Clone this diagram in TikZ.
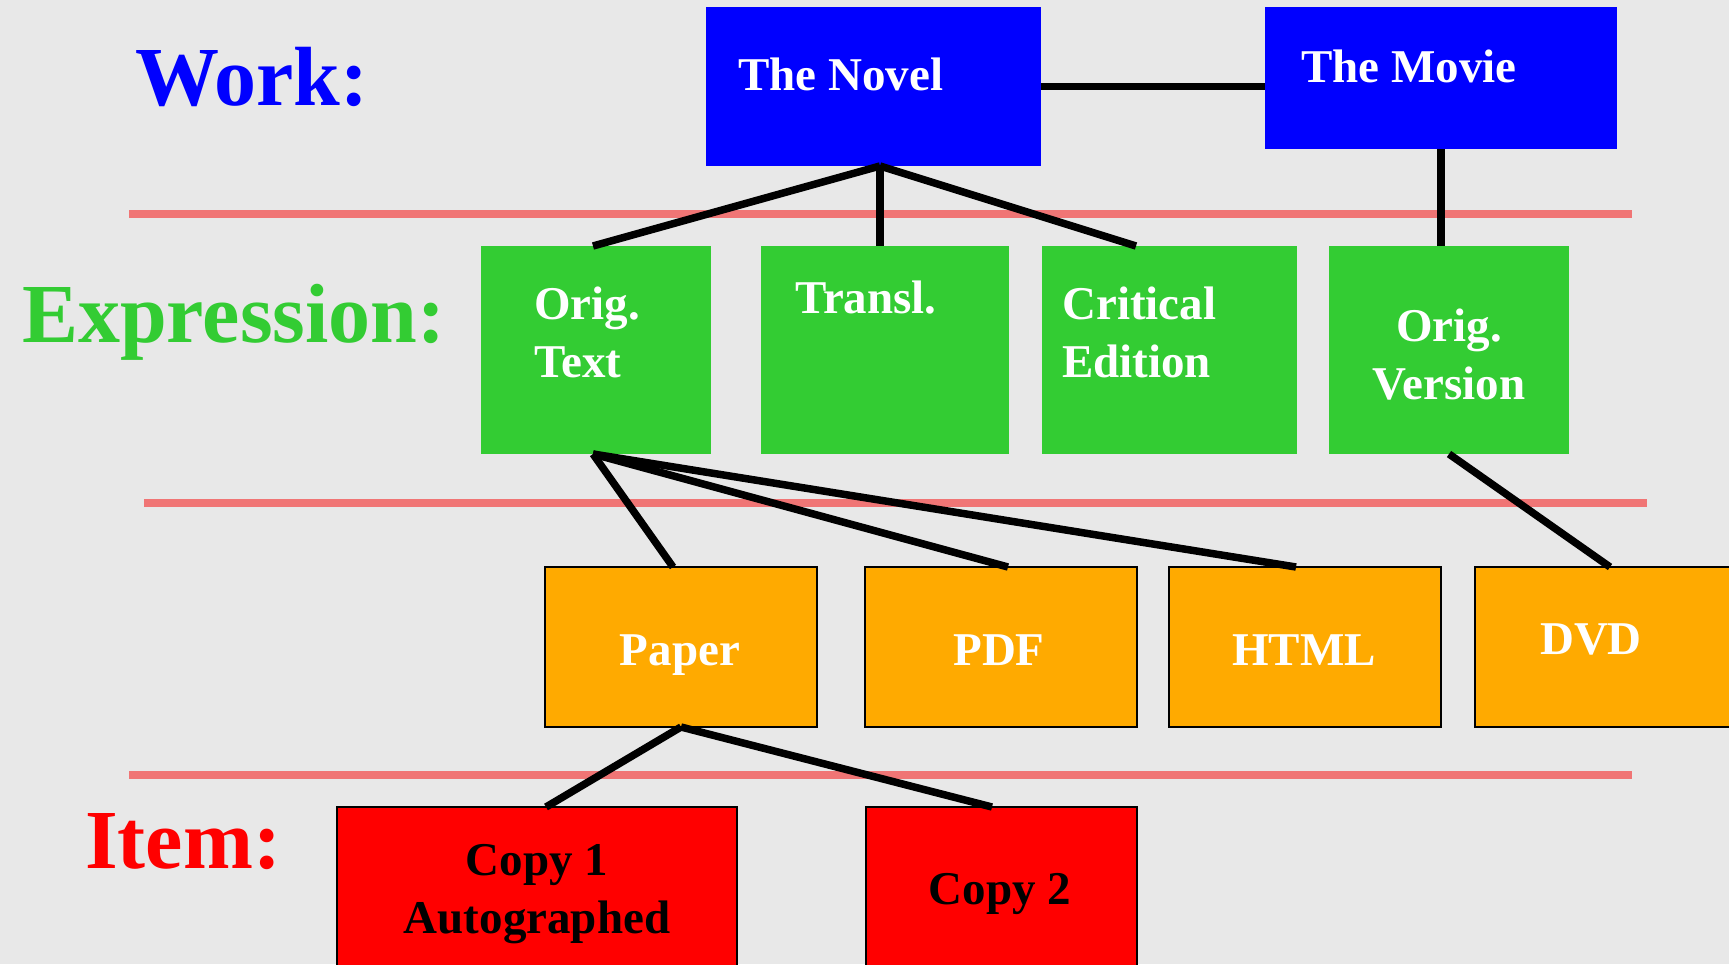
\documentclass[tikz,border=0pt]{standalone}
\usepackage{fontspec}
\setmainfont{Liberation Serif}
\definecolor{bg}{HTML}{E8E8E8}
\definecolor{wblue}{HTML}{0000FF}
\definecolor{egreen}{HTML}{33CC33}
\definecolor{morange}{HTML}{FFAA00}
\definecolor{ired}{HTML}{FF0000}
\definecolor{sepred}{HTML}{F07575}
\begin{document}
\begin{tikzpicture}[x=1pt,y=-1pt,
  boxbase/.style={inner sep=0pt, outer sep=0pt, anchor=north west},
  workbox/.style={boxbase, fill=wblue},
  exprbox/.style={boxbase, fill=egreen},
  manbox/.style={boxbase, fill=morange, draw=black, line width=2.5pt},
  itembox/.style={boxbase, fill=ired, draw=black, line width=2.5pt},
  lbl/.style={text=white, font=\fontsize{47}{58}\selectfont\bfseries, inner sep=0pt},
  dlbl/.style={lbl, text=black},
  head/.style={font=\fontsize{84}{90}\selectfont\bfseries, inner sep=0pt, anchor=base west},
  conn/.style={draw=black, line width=7.5pt},
  sepline/.style={draw=sepred, line width=8pt}]
\clip (0,0) rectangle (1729,964);
\fill[bg] (0,0) rectangle (1729,964);
% separators
\draw[sepline] (129,214) -- (1632,214);
\draw[sepline] (144,503) -- (1647,503);
\draw[sepline] (129,775) -- (1632,775);
% headings
\node[head, text=wblue] (hwork) at (135,105) {Work:};
\node[head, text=egreen] (hexpr) at (22,342) {Expression:};
\node[head, text=ired] (hitem) at (85,868) {Item:};
% boxes
\node[workbox, minimum width=335pt, minimum height=159pt] (novel) at (706,7) {};
\node[workbox, minimum width=352pt, minimum height=142pt] (movie) at (1265,7) {};
\node[exprbox, minimum width=230pt, minimum height=208pt] (origtext) at (481,246) {};
\node[exprbox, minimum width=248pt, minimum height=208pt] (transl) at (761,246) {};
\node[exprbox, minimum width=255pt, minimum height=208pt] (critical) at (1042,246) {};
\node[exprbox, minimum width=240pt, minimum height=208pt] (origver) at (1329,246) {};
\node[manbox, minimum width=272pt, minimum height=160pt] (paper) at (545,567) {};
\node[manbox, minimum width=272pt, minimum height=160pt] (pdf) at (865,567) {};
\node[manbox, minimum width=272pt, minimum height=160pt] (html) at (1169,567) {};
\node[manbox, minimum width=300pt, minimum height=160pt] (dvd) at (1475,567) {};
\node[itembox, minimum width=400pt, minimum height=200pt] (copy1) at (337,807) {};
\node[itembox, minimum width=271pt, minimum height=200pt] (copy2) at (866,807) {};
% labels
\node[lbl, anchor=base west] (tnovel) at (738,90) {The Novel};
\node[lbl, anchor=base west] (tmovie) at (1301,82) {The Movie};
\node[lbl, anchor=north west, align=left] (torig) at (534,287) {Orig.\\Text};
\node[lbl, anchor=base west] (ttransl) at (795,313) {Transl.};
\node[lbl, anchor=north west, align=left] (tcrit) at (1062,287) {Critical\\Edition};
\node[lbl, anchor=north, align=center] (tover) at (1449,309) {Orig.\\Version};
\node[lbl, anchor=base] (tpaper) at (680,665) {Paper};
\node[lbl, anchor=base] (tpdf) at (999,665) {PDF};
\node[lbl, anchor=base] (thtml) at (1304,665) {HTML};
\node[lbl, anchor=base] (tdvd) at (1591,654) {DVD};
\node[dlbl, anchor=north, align=center] (tcopy1) at (537,844) {Copy 1\\Autographed};
\node[dlbl, anchor=base] (tcopy2) at (1000,904) {Copy 2};
% connectors
\coordinate (nb) at ([xshift=6.5pt]novel.south);
\coordinate (ob) at ([xshift=-3pt]origtext.south);
\coordinate (pb) at (paper.south);
\draw[conn] (novel.east) -- (novel.east -| movie.west);
\draw[conn] (nb) -- ([xshift=-3pt]origtext.north);
\draw[conn] (nb) -- (nb |- transl.north);
\draw[conn] (nb) -- ([xshift=-33.5pt]critical.north);
\draw[conn] (movie.south) -- (movie.south |- origver.north);
\draw[conn] (ob) -- ([xshift=-8pt]paper.north);
\draw[conn] (ob) -- ([xshift=7pt]pdf.north);
\draw[conn] (ob) -- ([xshift=-9pt]html.north);
\draw[conn] (origver.south) -- ([xshift=-15pt]dvd.north);
\draw[conn] (pb) -- ([xshift=9pt]copy1.north);
\draw[conn] (pb) -- ([xshift=-9.5pt]copy2.north);
\end{tikzpicture}
\end{document}
